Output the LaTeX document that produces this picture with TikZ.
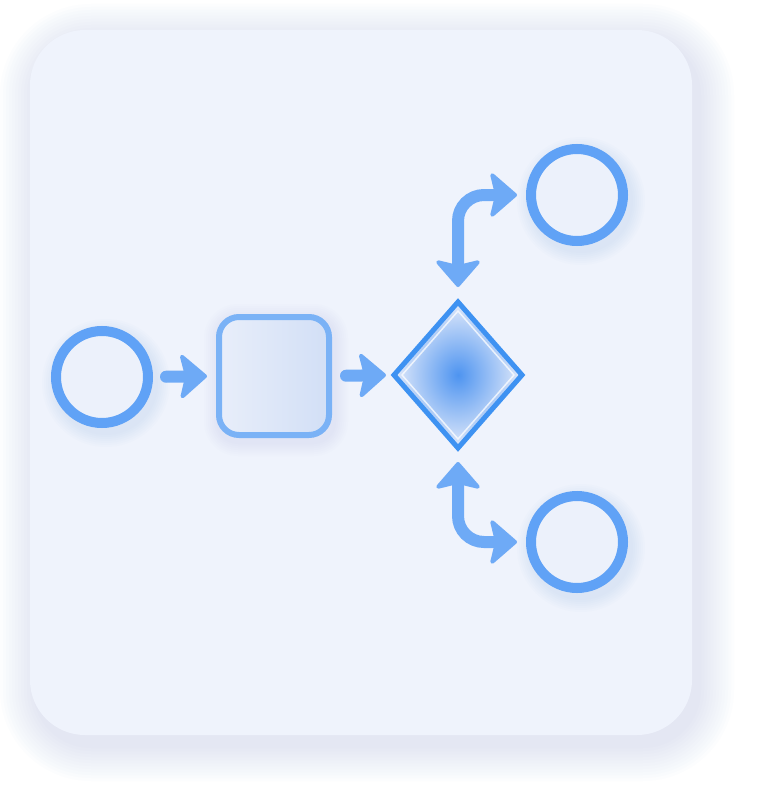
\documentclass[tikz,border=0pt]{standalone}
\usetikzlibrary{arrows.meta,shapes.geometric,calc}
\definecolor{ringblue}{RGB}{96,162,246}
\definecolor{arrowblue}{RGB}{110,170,246}
\definecolor{dstroke}{RGB}{62,146,242}
\definecolor{sqstroke}{RGB}{122,178,246}
\definecolor{cardfill}{RGB}{239,243,252}
\definecolor{shcol}{RGB}{120,158,238}
\definecolor{ringin}{RGB}{236,241,251}
\definecolor{sqlight}{RGB}{232,238,250}
\definecolor{sqdark}{RGB}{210,223,246}
\definecolor{dcenter}{RGB}{78,148,240}
\definecolor{dmid}{RGB}{132,178,243}
\definecolor{dout}{RGB}{226,234,250}
\tikzset{
  ring/.style={circle, draw=ringblue, line width=10pt, minimum size=92pt, inner sep=0pt, outer sep=0pt, fill=ringin},
  taskbox/.style={rectangle, rounded corners=20pt, draw=sqstroke, line width=6pt, minimum width=110pt, minimum height=118pt, inner sep=0pt, outer sep=0pt, shading=axis, shading angle=135, left color=sqlight, right color=sqdark},
  gate/.style={diamond, draw=dstroke, line width=5pt, minimum width=128pt, minimum height=146pt, inner sep=0pt, outer sep=0pt, shading=radial, inner color=dcenter, middle color=dmid, outer color=dout},
  tip/.tip={Stealth[length=29pt, width=50pt, inset=6pt, round, line width=4pt]},
  flow/.style={draw=arrowblue, line width=12pt, line cap=round, -tip},
  biflow/.style={draw=arrowblue, line width=12pt, rounded corners=26pt, tip-tip},
}
\begin{document}
\begin{tikzpicture}[x=1pt,y=-1pt]
\useasboundingbox (0,0) rectangle (756,800);
\fill[white] (0,0) rectangle (756,800);
% card shadow
\foreach \i in {3,6,...,36} {
  \fill[shcol, opacity=0.016, rounded corners=55pt+\i pt] (30-\i+6,30-\i+10) rectangle (692+\i+6,735+\i+10);
}
% card
\fill[cardfill, rounded corners=55pt] (30,30) rectangle (692,735);
% element glows
\foreach \i in {2,4,...,14} {
  \fill[shcol, opacity=0.02] (106,383) circle (50+\i);
  \fill[shcol, opacity=0.02] (581,201) circle (50+\i);
  \fill[shcol, opacity=0.02] (581,548) circle (50+\i);
  \fill[shcol, opacity=0.016, rounded corners=20pt+\i pt] (218-\i,318-\i) rectangle (334+\i,442+\i);
}
% nodes
\node[ring] (c1) at (102,377) {};
\node[taskbox] (sq) at (274,376) {};
\node[gate] (d) at (458,375) {};
\node[ring] (ct) at (577,195) {};
\node[ring] (cb) at (577,542) {};
% inner highlight of diamond
\draw[white, opacity=0.75, line width=1.5pt, line join=round]
  ($(d.north)+(0,9)$) -- ($(d.east)+(-8,0)$) -- ($(d.south)+(0,-9)$) -- ($(d.west)+(8,0)$) -- cycle;
% connectors
\draw[flow, shorten <=18pt, shorten >=12pt] (c1.east) -- (sq.west);
\draw[flow, shorten <=17pt, shorten >=8pt] (sq.east) -- (d.west);
\draw[biflow, shorten <=15pt, shorten >=14pt] (d.north) |- (ct.west);
\draw[biflow, shorten <=14pt, shorten >=14pt] (d.south) |- (cb.west);
\end{tikzpicture}
\end{document}
